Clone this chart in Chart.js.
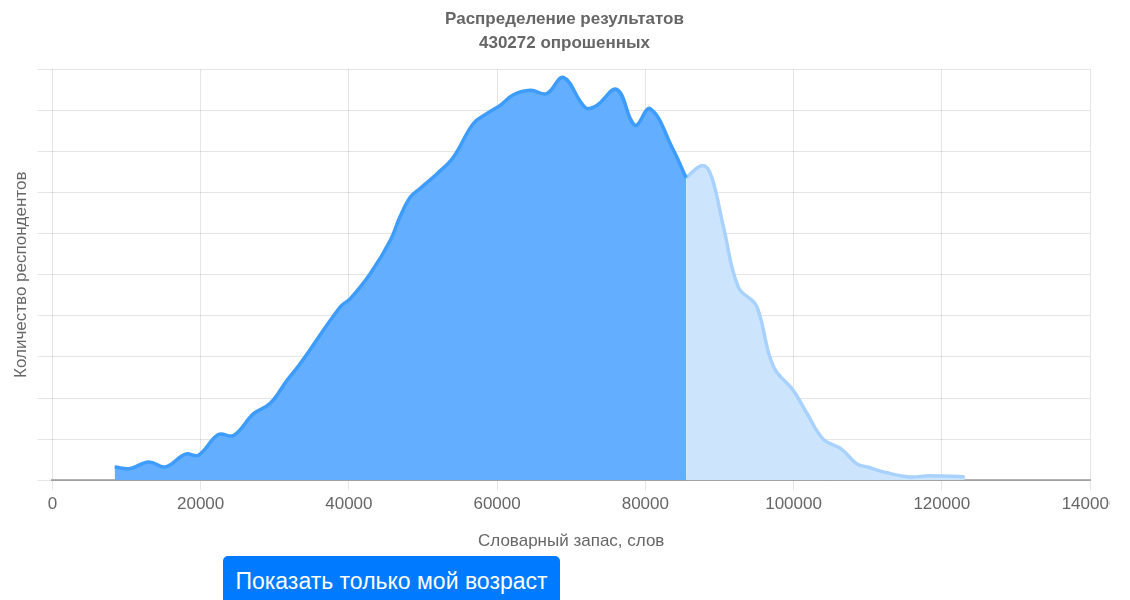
<!DOCTYPE html>
<html lang="ru">
<head>
<meta charset="utf-8">
<title>Распределение результатов</title>
<script src="https://cdn.jsdelivr.net/npm/chart.js"></script>
<style>
    body { margin: 0; background: #fff; font-family: "Liberation Sans", Arial, sans-serif; }
    #wrap { position: relative; width: 1110px; height: 555px; overflow: hidden; }
    #inner { width: 1130px; height: 555px; }
    #ageBtn {
        position: absolute; left: 223px; top: 556px;
        width: 337px; height: 50px;
        background: #007bff; color: #fff; border: none; border-radius: 5px;
        font-family: "Liberation Sans", Arial, sans-serif; font-size: 23px;
        padding: 0; cursor: pointer;
    }
</style>
</head>
<body>
<div id="wrap">
    <div id="inner"><canvas id="resultsChart"></canvas></div>
</div>
<button id="ageBtn">Показать только мой возраст</button>
<script>
// Словарный запас (x) и количество респондентов (y)
const beforeX = [8400, 10500, 13000, 15250, 17950, 19700, 22400, 24450, 27150, 29400, 31650,
                 33450, 38850, 40200, 42900, 45600, 46900, 48300, 49600, 51900, 54100, 56800,
                 58600, 60400, 62200, 64500, 66700, 68950, 71900, 73450, 76150, 78600, 80650,
                 83800, 85500];
const beforeY = [320, 285, 445, 325, 635, 610, 1110, 1090, 1620, 1870, 2430,
                 2840, 4220, 4420, 5030, 5840, 6410, 6890, 7100, 7460, 7860, 8680,
                 8920, 9120, 9380, 9490, 9410, 9800, 9070, 9120, 9510, 8640, 9040,
                 8030, 7360];

const afterX = [85500, 87750, 88950, 90550, 92550, 94800, 95500, 97300, 99950, 101800, 104000,
                106500, 108500, 110000, 112600, 115700, 118400, 123100];
const afterY = [7360, 7660, 7380, 6160, 4700, 4300, 3970, 2760, 2190, 1630, 1000,
                750, 400, 320, 180, 80, 110, 80];

const xTicks = [0, 20000, 40000, 60000, 80000, 100000, 120000, 140000];

const toPoints = (xs, ys) => xs.map((x, i) => ({ x: x, y: ys[i] }));

const font = { family: '"Liberation Sans", Arial, sans-serif', size: 17 };

const ctx = document.getElementById('resultsChart').getContext('2d');
const resultsChart = new Chart(ctx, {
    type: 'line',
    data: {
        datasets: [
            {
                label: 'Мой результат и ниже',
                data: toPoints(beforeX, beforeY),
                borderColor: '#3d9cfd',
                backgroundColor: '#63aefe',
                borderWidth: 3.5,
                fill: 'origin',
                tension: 0.4,
                pointRadius: 0
            },
            {
                label: 'Выше',
                data: toPoints(afterX, afterY),
                borderColor: '#a8d2fd',
                backgroundColor: '#cce5fd',
                borderWidth: 3.5,
                fill: 'origin',
                tension: 0.4,
                pointRadius: 0
            }
        ]
    },
    options: {
        responsive: true,
        maintainAspectRatio: false,
        animation: false,
        layout: { padding: { left: 11, right: 12, top: 7, bottom: 3 } },
        plugins: {
            legend: { display: false },
            tooltip: { enabled: false },
            title: {
                display: true,
                text: ['Распределение результатов', '430272 опрошенных'],
                color: '#666',
                font: { family: font.family, size: 17, weight: 'bold', lineHeight: 1.42 },
                padding: { top: 0, bottom: 14 }
            }
        },
        scales: {
            x: {
                type: 'linear',
                min: 0,
                max: 140000,
                afterBuildTicks: axis => { axis.ticks = xTicks.map(v => ({ value: v })); },
                // оставляем место справа, последняя подпись обрезается краем
                afterFit: axis => { axis.paddingRight = 40; },
                ticks: { color: '#666', font: font, padding: 4, maxRotation: 0, callback: v => String(v) },
                grid: { color: 'rgba(0,0,0,0.1)', tickLength: 10 },
                border: { color: 'rgba(0,0,0,0.3)', width: 2 },
                title: { display: true, text: 'Словарный запас, слов', color: '#666', font: font, padding: { top: 13, bottom: 0 } }
            },
            y: {
                min: 0,
                max: 10000,
                ticks: { display: false, stepSize: 1000 },
                grid: { color: 'rgba(0,0,0,0.1)', tickLength: 15 },
                border: { display: false },
                title: { display: true, text: 'Количество респондентов', color: '#666', font: font, padding: { top: 0, bottom: 6 } }
            }
        }
    }
});

document.getElementById('ageBtn').addEventListener('click', () => {
    resultsChart.update();
});
</script>
</body>
</html>
